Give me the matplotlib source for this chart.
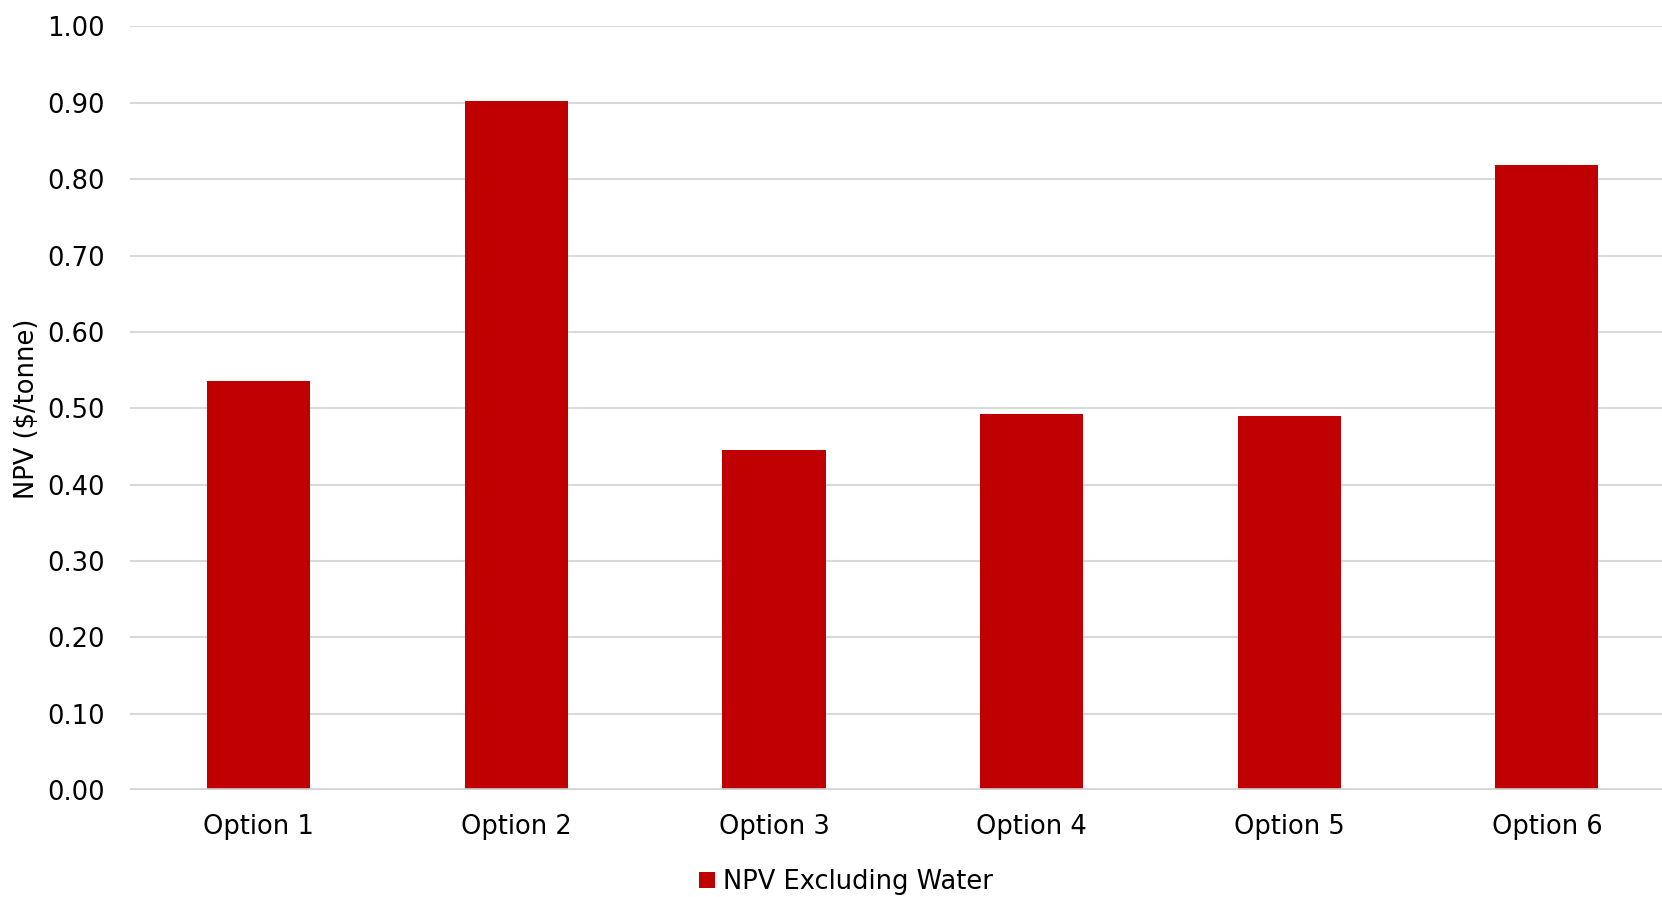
import matplotlib.pyplot as plt
import numpy as np

# NPV per option
options = ['Option 1', 'Option 2', 'Option 3', 'Option 4', 'Option 5', 'Option 6']
npv_excl_water = [0.536, 0.902, 0.445, 0.492, 0.490, 0.819]
y_ticks = np.arange(0, 1.01, 0.1)

plt.rcParams['font.family'] = 'DejaVu Sans'

fig = plt.figure(figsize=(16.62, 8.97), dpi=100)
ax = fig.add_axes([0.0782, 0.119, 0.930, 0.8515])

x = np.arange(len(options))
ax.bar(x, npv_excl_water, width=0.4, color='#C00000', label='NPV Excluding Water', zorder=3)

ax.set_xlim(-0.5, len(options) - 0.5)
ax.set_ylim(0, 1.0)
ax.set_yticks(y_ticks)
ax.set_yticklabels([f'{v:.2f}' for v in y_ticks])
ax.set_xticks(x)
ax.set_xticklabels(options)

ax.grid(axis='y', color='#d9d9d9', linewidth=1.5, zorder=0)
ax.axhline(0, color='#d4d4d4', linewidth=2.6, zorder=4)
for s in ax.spines.values():
    s.set_visible(False)
ax.tick_params(axis='y', length=0, pad=18, labelsize=18.5, labelcolor='black')
ax.tick_params(axis='x', length=0, pad=17, labelsize=18.5, labelcolor='black')

ax.set_ylabel('NPV ($/tonne)', fontsize=18.5)
ax.yaxis.set_label_coords(-0.058, 0.5)

fig.legend(loc='center', bbox_to_anchor=(0.509, 0.0167), frameon=False, fontsize=18.5,
           handlelength=0.6, handleheight=0.6, handletextpad=0.3)

fig.savefig('out.png', dpi=100)
